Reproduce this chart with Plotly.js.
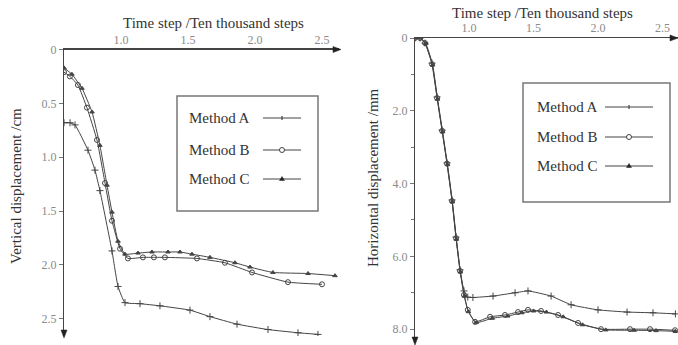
<!DOCTYPE html>
<html>
<head>
<meta charset="utf-8">
<script src="https://cdn.plot.ly/plotly-3.0.1.min.js"></script>
<style>html,body{margin:0;padding:0;background:#fff}#chart{width:678px;height:345px}</style>
</head>
<body>
<div id="chart"></div>
<script>
// ---- data ----
const seriesNames = ["Method A", "Method B", "Method C"];
const xTickVals = [1.0, 1.5, 2.0, 2.5];
const xTickText = ["1.0", "1.5", "2.0", "2.5"];
const leftYTickVals = [0, 0.5, 1.0, 1.5, 2.0, 2.5];
const leftYTickText = ["0", "0.5", "1.0", "1.5", "2.0", "2.5"];
const rightYTickVals = [0, 2, 4, 6, 8];
const rightYTickText = ["0", "2.0", "4.0", "6.0", "8.0"];

// Left chart: vertical displacement (cm)
const leftTimeA = [0.575,0.62,0.657,0.754,0.806,0.843,0.933,0.978,1.030,1.142,1.291,1.515,1.664,1.866,2.097,2.321,2.470];
const leftDispA = [0.68,0.68,0.70,0.935,1.12,1.31,1.87,2.20,2.35,2.36,2.38,2.42,2.48,2.55,2.60,2.63,2.645];
const leftTimeB = [0.575,0.619,0.679,0.746,0.821,0.881,0.933,0.993,1.052,1.164,1.246,1.328,1.567,1.776,1.978,2.246,2.50];
const leftDispB = [0.21,0.25,0.33,0.54,0.84,1.24,1.59,1.85,1.94,1.93,1.93,1.93,1.94,1.98,2.07,2.16,2.18];
const leftTimeC = [0.575,0.634,0.709,0.784,0.843,0.896,0.933,0.978,1.030,1.127,1.231,1.351,1.440,1.530,1.664,1.851,1.963,2.134,2.396,2.597];
const leftDispC = [0.17,0.23,0.36,0.58,0.89,1.26,1.51,1.78,1.90,1.89,1.88,1.88,1.88,1.90,1.93,1.98,2.02,2.07,2.08,2.10];

// Right chart: horizontal displacement (mm)
const rightTimeA = [0.581,0.620,0.659,0.713,0.752,0.791,0.829,0.868,0.899,0.930,0.961,0.99,1.03,1.186,1.357,1.457,1.636,1.791,2.0,2.225,2.426,2.60];
const rightDispA = [0,0,0.14,0.69,1.62,2.53,3.43,4.45,5.47,6.37,6.95,7.12,7.13,7.09,7.0,6.95,7.09,7.33,7.47,7.53,7.55,7.58];
const rightTimeB = [0.581,0.620,0.659,0.713,0.752,0.791,0.829,0.868,0.899,0.930,0.961,0.99,1.047,1.163,1.279,1.380,1.457,1.558,1.690,1.845,2.023,2.248,2.403,2.597];
const rightDispB = [0,0,0.14,0.72,1.65,2.55,3.45,4.48,5.50,6.40,7.06,7.47,7.80,7.66,7.61,7.53,7.47,7.50,7.61,7.83,8.0,8.0,8.0,8.03];
const rightTimeC = [0.581,0.625,0.665,0.718,0.756,0.795,0.833,0.871,0.902,0.933,0.964,0.995,1.055,1.18,1.30,1.41,1.50,1.60,1.73,1.88,2.06,2.28,2.45,2.60];
const rightDispC = [0,0,0.15,0.74,1.68,2.58,3.48,4.50,5.53,6.43,7.09,7.52,7.82,7.70,7.64,7.55,7.50,7.53,7.66,7.88,8.02,8.03,8.04,8.06];

// ---- styling ----
const W = 678, H = 345;
const PX = x => x / W;
const PY = y => 1 - y / H;
const lineCol = "#444";
const font = "Liberation Serif, Times New Roman, serif";
const markerSyms = ["cross-thin-open", "circle-open", "triangle-up"];
const markerSizes = [5, 5, 4];

function tr(x, y, i, xa, ya) {
  return {
    x: x, y: y, xaxis: xa, yaxis: ya, type: "scatter", mode: "lines+markers",
    name: seriesNames[i], line: {color: lineCol, width: 1, shape: "spline", smoothing: 0.4},
    marker: {symbol: markerSyms[i], size: markerSizes[i], color: lineCol, line: {color: lineCol, width: 1}},
    hoverinfo: "skip"
  };
}

const data = [
  tr(leftTimeA, leftDispA, 0, "x", "y"),
  tr(leftTimeB, leftDispB, 1, "x", "y"),
  tr(leftTimeC, leftDispC, 2, "x", "y"),
  tr(rightTimeA, rightDispA, 0, "x2", "y2"),
  tr(rightTimeB, rightDispB, 1, "x2", "y2"),
  tr(rightTimeC, rightDispC, 2, "x2", "y2")
];

const tickFont = {family: font, size: 12, color: "#8a8a8a"};
const xCommon = {
  side: "top", showline: true, linecolor: "#444", linewidth: 1.2, showgrid: false, zeroline: false,
  tickvals: xTickVals, ticktext: xTickText, ticks: "", tickfont: tickFont, fixedrange: true
};
const yCommon = {
  showline: true, linecolor: "#444", linewidth: 1.2, showgrid: false, zeroline: false,
  ticks: "outside", ticklen: 4, tickcolor: "#777", tickfont: tickFont, fixedrange: true
};

const layout = {
  width: W, height: H, margin: {l: 0, r: 0, t: 0, b: 0},
  paper_bgcolor: "#fff", plot_bgcolor: "rgba(0,0,0,0)", showlegend: false, hovermode: false,
  xaxis: Object.assign({}, xCommon, {domain: [PX(64), PX(339)], range: [0.575, 2.627], anchor: "y"}),
  yaxis: Object.assign({}, yCommon, {domain: [PY(336), PY(49.5)], range: [2.66, 0], anchor: "x",
    tickvals: leftYTickVals, ticktext: leftYTickText}),
  xaxis2: Object.assign({}, xCommon, {domain: [PX(415), 1], range: [0.581, 2.62], anchor: "y2"}),
  yaxis2: Object.assign({}, yCommon, {domain: [PY(343), PY(38)], range: [8.38, 0], anchor: "x2",
    tickvals: rightYTickVals, ticktext: rightYTickText,
    minor: {dtick: 1, ticks: "outside", ticklen: 3, tickcolor: "#777", showgrid: false}}),
  annotations: [],
  shapes: []
};

const titleFont = {family: font, size: 15, color: "#333"};
function ann(text, x, y, angle, size) {
  layout.annotations.push({text: text, xref: "paper", yref: "paper", x: PX(x), y: PY(y),
    xanchor: "center", yanchor: "middle", showarrow: false, textangle: angle || 0,
    font: Object.assign({}, titleFont, size ? {size: size} : {})});
}
ann("Time step /Ten thousand steps", 213, 23);
ann("Time step /Ten thousand steps", 542, 13);
ann("Vertical displacement /cm", 16, 186, -90);
ann("Horizontal displacement /mm", 373, 178, -90);

// arrowheads on axes
function tri(pts) {
  layout.shapes.push({type: "path", xref: "paper", yref: "paper",
    path: "M" + pts.map(p => PX(p[0]) + "," + PY(p[1])).join(" L") + " Z",
    fillcolor: "#222", line: {color: "#222", width: 0.5}});
}
tri([[341, 49.5], [333, 46.5], [333, 52.5]]);
tri([[64, 338], [61, 330], [67, 330]]);
tri([[678, 38], [670, 35], [670, 41]]);
tri([[415, 345], [412, 337], [418, 337]]);

// legend boxes (drawn with layout shapes/annotations)
function legendBox(x0, y0, x1, y1, textX, rows, keyX0, keyX1) {
  layout.shapes.push({type: "rect", xref: "paper", yref: "paper",
    x0: PX(x0), y0: PY(y0), x1: PX(x1), y1: PY(y1), line: {color: "#777", width: 1.5}, fillcolor: "rgba(0,0,0,0)"});
  rows.forEach((ry, i) => {
    layout.annotations.push({text: seriesNames[i], xref: "paper", yref: "paper", x: PX(textX), y: PY(ry),
      xanchor: "left", yanchor: "middle", showarrow: false, font: titleFont});
    layout.shapes.push({type: "line", xref: "paper", yref: "paper",
      x0: PX(keyX0), y0: PY(ry), x1: PX(keyX1), y1: PY(ry), line: {color: lineCol, width: 1}});
    const cx = (keyX0 + keyX1) / 2;
    if (i === 0) {
      layout.shapes.push({type: "line", xref: "paper", yref: "paper",
        x0: PX(cx), y0: PY(ry - 2), x1: PX(cx), y1: PY(ry + 2), line: {color: lineCol, width: 1.2}});
    } else if (i === 1) {
      layout.shapes.push({type: "circle", xref: "paper", yref: "paper",
        x0: PX(cx - 2.5), y0: PY(ry - 2.5), x1: PX(cx + 2.5), y1: PY(ry + 2.5), line: {color: lineCol, width: 1}, fillcolor: "#fff"});
    } else {
      tri([[cx, ry - 2.5], [cx - 2.5, ry + 1.5], [cx + 2.5, ry + 1.5]]);
    }
  });
}
legendBox(177, 96, 318, 211, 187, [118, 150, 179], 263, 301);
legendBox(523, 83, 670, 202, 535, [107, 137, 166], 605, 653);

Plotly.newPlot("chart", data, layout, {displayModeBar: false, staticPlot: true});
</script>
</body>
</html>
